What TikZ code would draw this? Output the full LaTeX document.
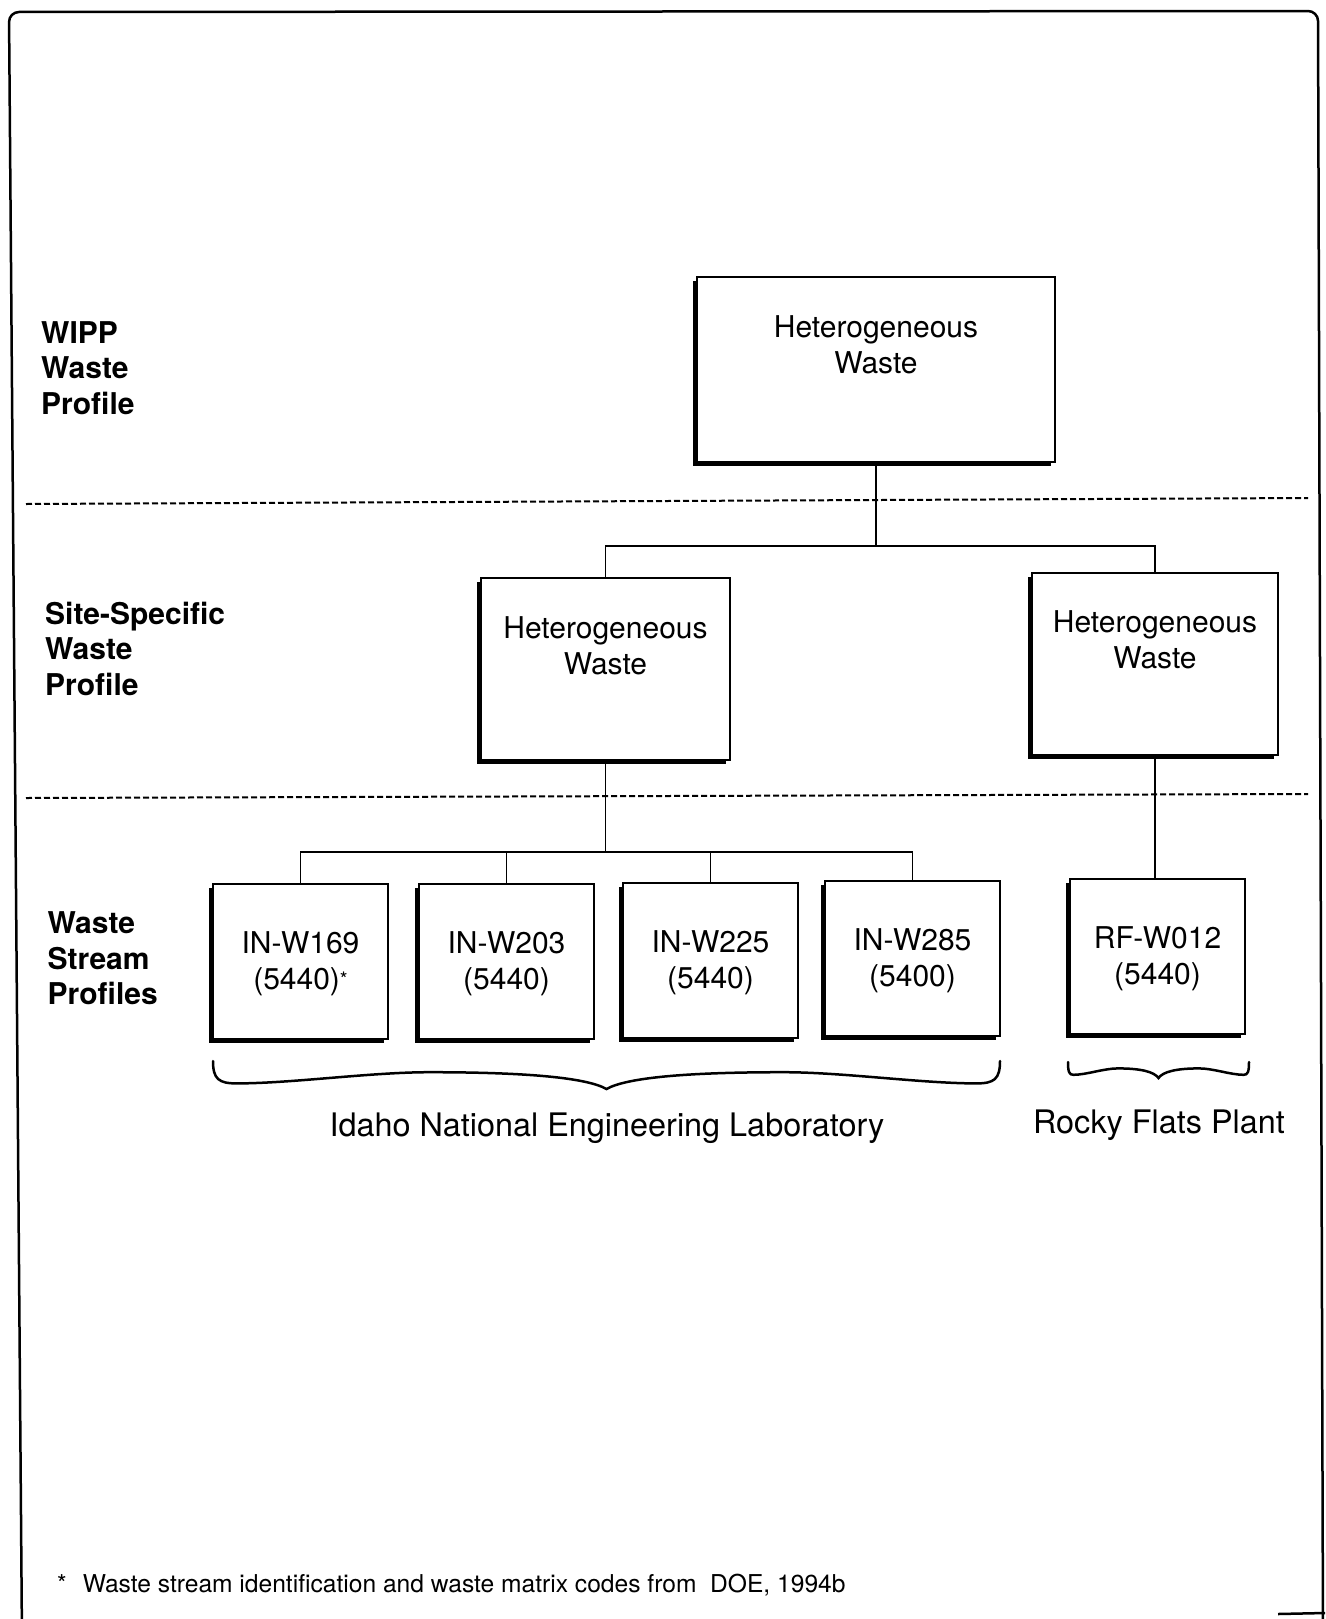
\documentclass[tikz,border=0pt]{standalone}
\usepackage{fontspec}
\setmainfont{TeX Gyre Heros}
\usetikzlibrary{shadows}
\newcommand\wbrace[4]{%
 \draw[brc] (#1,#3)
  .. controls (#1,{#3+0.65*#4}) and ({#1+0.015*#2},{#3+0.8*#4}) .. ({#1+0.06*#2},{#3+0.8*#4})
  .. controls ({#1+0.2*#2},{#3+0.8*#4}) and ({#1+0.4*#2},{#3+0.4*#4}) .. ({#1+0.55*#2},{#3+0.4*#4})
  .. controls ({#1+0.8*#2},{#3+0.4*#4}) and ({#1+0.95*#2},{#3+0.6*#4}) .. ({#1+#2},{#3+#4})
  .. controls ({#1+1.05*#2},{#3+0.6*#4}) and ({#1+1.2*#2},{#3+0.4*#4}) .. ({#1+1.45*#2},{#3+0.4*#4})
  .. controls ({#1+1.6*#2},{#3+0.4*#4}) and ({#1+1.8*#2},{#3+0.8*#4}) .. ({#1+1.94*#2},{#3+0.8*#4})
  .. controls ({#1+1.985*#2},{#3+0.8*#4}) and ({#1+2*#2},{#3+0.65*#4}) .. ({#1+2*#2},#3);}
\newcommand\smallstar{\raisebox{3pt}{\fontsize{20}{20}\selectfont *}}
\begin{document}
\begin{tikzpicture}[x=1pt,y=-1pt,
  box/.style={draw, line width=2pt, fill=white, inner sep=0pt, outer sep=0pt, anchor=north west,
    drop shadow={shadow xshift=-4pt, shadow yshift=-4pt, fill=black, opacity=1}},
  sbox/.style={box, minimum width=249pt, minimum height=182pt},
  wbox/.style={box, minimum width=175pt, minimum height=155pt},
  boxtxt/.style={anchor=north, align=center, inner sep=0pt, font=\fontsize{30}{36}\selectfont},
  lvl/.style={anchor=north west, align=left, inner sep=0pt, font=\fontsize{30}{35.5}\selectfont\bfseries},
  conn/.style={line width=1.6pt},
  sep/.style={line width=2pt, dash pattern=on 6pt off 3pt},
  brc/.style={line width=2.5pt, line cap=round},
  site/.style={anchor=base, inner sep=0pt, font=\fontsize{32.4}{36}\selectfont}]
\useasboundingbox (0,0) rectangle (1325,1619);
\fill[white] (0,0) rectangle (1325,1619);

% frame
\draw[line width=2.5pt, rounded corners=10pt] (22,1640) -- (9,12) -- (1318,11) -- (1323,1640);
\draw[line width=2.5pt] (1278,1614) -- (1325,1613);

% level separators
\draw[sep] (26,504) -- (1308,498);
\draw[sep] (26,798) -- (1308,794);

% level labels
\node[lvl] (l1) at (41,321) {WIPP\\Waste\\Profile};
\node[lvl] (l2) at (45,601.5) {Site-Specific\\Waste\\Profile};
\node[lvl] (l3) at (47.5,911.5) {Waste\\Stream\\Profiles};

% boxes
\node[box, minimum width=358pt, minimum height=185pt] (top) at (697,277) {};
\node[sbox] (ssl) at (481,578) {};
\node[sbox, minimum width=246pt] (ssr) at (1032,573) {};
\node[wbox] (b1) at (213,884) {};
\node[wbox] (b2) at (419,884) {};
\node[wbox] (b3) at (623,883) {};
\node[wbox] (b4) at (825,881) {};
\node[wbox] (rf) at (1070,879) {};

\node[boxtxt] (topt) at ([yshift=-38.5pt]top.north) {Heterogeneous\\Waste};
\node[boxtxt] (sslt) at ([yshift=-38pt]ssl.north) {Heterogeneous\\Waste};
\node[boxtxt] (ssrt) at ([yshift=-37.5pt]ssr.north) {Heterogeneous\\Waste};
\node[boxtxt] (b1t) at ([yshift=-47pt]b1.north) {IN-W169\\(5440)\smallstar};
\node[boxtxt] (b2t) at ([yshift=-47pt]b2.north) {IN-W203\\(5440)};
\node[boxtxt] (b3t) at ([yshift=-47pt]b3.north) {IN-W225\\(5440)};
\node[boxtxt] (b4t) at ([yshift=-47pt]b4.north) {IN-W285\\(5400)};
\node[boxtxt] (rft) at ([yshift=-47pt]rf.north) {RF-W012\\(5440)};

% connectors
\path (top.south) ++(0,84) coordinate (j1);
\draw[conn] (top.south) -- (j1);
\draw[conn] (ssl.north) |- (j1) -| (ssr.north);
\path (ssl.south) ++(0,92) coordinate (j2);
\draw[conn] (ssl.south) -- (j2);
\draw[conn] (b1.north) |- (j2) -| (b4.north);
\draw[conn] (b2.north) -- (b2.north |- j2);
\draw[conn] (b3.north) -- (b3.north |- j2);
\draw[conn] (ssr.south) -- (ssr.south |- rf.north);

% braces
\wbrace{213}{393.5}{1061}{28}
\wbrace{1068}{90.5}{1062}{16}

\node[site] (inel) at (607,1136) {Idaho National Engineering Laboratory};
\node[site] (rfp) at (1159,1133) {Rocky Flats Plant};

% footnote
\node[anchor=base west, inner sep=0pt, font=\fontsize{24.6}{28}\selectfont] (fn) at (57,1592)
  {*\hspace{16pt}Waste stream identification and waste matrix codes from\ \ DOE, 1994b};
\end{tikzpicture}
\end{document}
